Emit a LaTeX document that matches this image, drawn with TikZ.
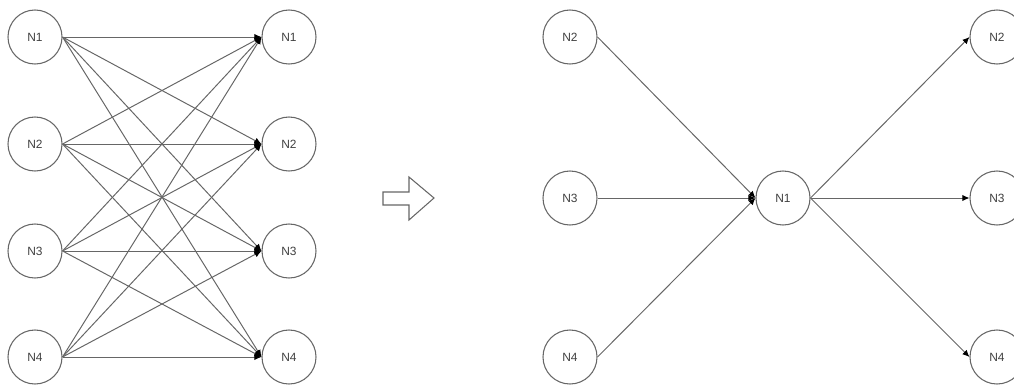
\documentclass[tikz,border=0pt]{standalone}
\usepackage{fontspec}
\setmainfont{Liberation Sans}
\usetikzlibrary{arrows.meta}
\begin{document}
\begin{tikzpicture}[x=0.025cm, y=-0.025cm]
    \tikzstyle{neuron}=[circle, draw=black!60, line width=0.75pt, minimum size=1.35cm, inner sep=0pt, font=\fontsize{8.5}{9}\selectfont, text=black!75];
    \tikzstyle{link}=[draw=black!60, line width=0.7pt, -{Latex[length=5pt, width=4.5pt, black]}];
    \useasboundingbox (0,0) rectangle (1014,388);
    
    % full layer
    \node[neuron] (a1) at (35,37) {N1};
    \node[neuron] (a2) at (35,144) {N2};
    \node[neuron] (a3) at (35,251) {N3};
    \node[neuron] (a4) at (35,357) {N4};
    
    \node[neuron] (b1) at (289,37) {N1};
    \node[neuron] (b2) at (289,144) {N2};
    \node[neuron] (b3) at (289,251) {N3};
    \node[neuron] (b4) at (289,357) {N4};
    
    \draw[link] (a1.east) -- (b1.west);
    \draw[link] (a1.east) -- (b2.west);
    \draw[link] (a1.east) -- (b3.west);
    \draw[link] (a1.east) -- (b4.west);
    
    \draw[link] (a2.east) -- (b1.west);
    \draw[link] (a2.east) -- (b2.west);
    \draw[link] (a2.east) -- (b3.west);
    \draw[link] (a2.east) -- (b4.west);
    
    \draw[link] (a3.east) -- (b1.west);
    \draw[link] (a3.east) -- (b2.west);
    \draw[link] (a3.east) -- (b3.west);
    \draw[link] (a3.east) -- (b4.west);
    
    \draw[link] (a4.east) -- (b1.west);
    \draw[link] (a4.east) -- (b2.west);
    \draw[link] (a4.east) -- (b3.west);
    \draw[link] (a4.east) -- (b4.west);
    
    % hollow arrow
    \draw[draw=black!60, line width=0.75pt, line join=miter]
        (383,192) -- (409,192) -- (409,177) -- (434,198) -- (409,220) -- (409,205) -- (383,205) -- cycle;
    
    % star through N1
    \node[neuron] (c2) at (570,37) {N2};
    \node[neuron] (c3) at (570,198) {N3};
    \node[neuron] (c4) at (570,357) {N4};
    
    \node[neuron] (hub) at (783,198) {N1};
    
    \node[neuron] (d2) at (997,37) {N2};
    \node[neuron] (d3) at (997,198) {N3};
    \node[neuron] (d4) at (997,357) {N4};
    
    \draw[link] (c2.east) -- (hub.west);
    \draw[link] (c3.east) -- (hub.west);
    \draw[link] (c4.east) -- (hub.west);
    
    \draw[link] (hub.east) -- (d2.west);
    \draw[link] (hub.east) -- (d3.west);
    \draw[link] (hub.east) -- (d4.west);
    
\end{tikzpicture}
\end{document}
